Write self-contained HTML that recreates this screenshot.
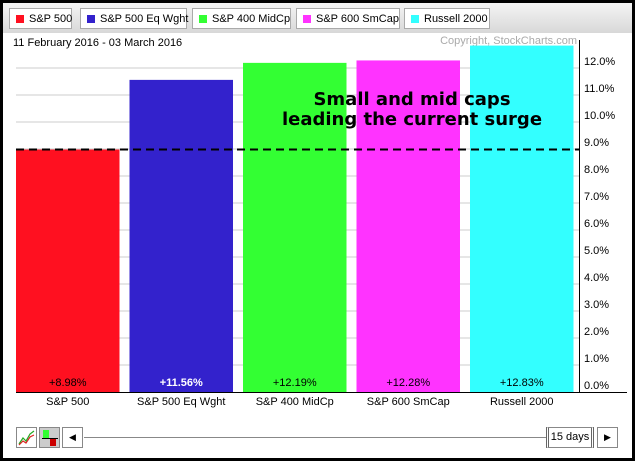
<!DOCTYPE html>
<html><head><meta charset="utf-8"><style>
body{margin:0;width:635px;height:461px;overflow:hidden;font-family:"Liberation Sans",Arial,sans-serif;}
#frame{position:absolute;left:0;top:0;width:629px;height:455px;border:3px solid #000;background:#fff;}
#hdr{position:absolute;left:0;top:0;width:629px;height:30px;background:linear-gradient(#f4f4f4,#d8d8d8);}
.leg{position:absolute;top:5px;height:21px;border:1px solid #aaa;background:#fff;font-size:11px;line-height:20px;padding:0 0 0 19px;box-sizing:border-box;white-space:nowrap;}
.leg i{position:absolute;left:6px;top:6px;width:8px;height:8px;}
.btn{position:absolute;border:1px solid #888;background:#fff;box-sizing:border-box;font-size:11px;text-align:center;white-space:nowrap;}
</style></head><body>
<div id="frame">
<div id="hdr">
<div class="leg" style="left:6px;width:63px"><i style="background:#ff1020"></i>S&amp;P 500</div>
<div class="leg" style="left:77px;width:107px"><i style="background:#3322cc"></i>S&amp;P 500 Eq Wght</div>
<div class="leg" style="left:189px;width:99px"><i style="background:#33ff33"></i>S&amp;P 400 MidCp</div>
<div class="leg" style="left:293px;width:104px"><i style="background:#ff33ff"></i>S&amp;P 600 SmCap</div>
<div class="leg" style="left:401px;width:86px"><i style="background:#33ffff"></i>Russell 2000</div>
</div>
</div>
<svg id="chart" width="635" height="461" style="position:absolute;left:0;top:0"></svg>
<div class="btn" style="left:16px;top:427px;width:21px;height:21px"><svg width="19" height="19"><polyline points="2,16 6,10 9,13 13,6 17,3" fill="none" stroke="#2a2" stroke-width="1.2"/><polyline points="2,17 6,13 9,15 13,9 17,7" fill="none" stroke="#d22" stroke-width="1.2"/></svg></div>
<div class="btn" style="left:39px;top:427px;width:21px;height:21px;background:#ccc"><div style="position:absolute;left:3px;top:2px;width:6px;height:8px;background:#3f3"></div><div style="position:absolute;left:2px;top:10px;width:16px;height:1px;background:#000"></div><div style="position:absolute;left:10px;top:11px;width:6px;height:7px;background:#c00"></div></div>
<div class="btn" style="left:62px;top:427px;width:21px;height:21px;line-height:19px;font-size:9px">◀</div>
<div style="position:absolute;left:84px;top:437px;width:462px;height:1px;background:#888"></div>
<div class="btn" style="left:546px;top:427px;width:48px;height:21px;line-height:19px;border-left:3px double #666;border-right:3px double #666">15 days</div>
<div class="btn" style="left:597px;top:427px;width:21px;height:21px;line-height:19px;font-size:9px">▶</div>
<script>
const categories=["S&P 500","S&P 500 Eq Wght","S&P 400 MidCp","S&P 600 SmCap","Russell 2000"];
const values=[8.98,11.56,12.19,12.28,12.83];
const colors=["#ff1020","#3322cc","#33ff33","#ff33ff","#33ffff"];
const ticks=[0,1,2,3,4,5,6,7,8,9,10,11,12];
const refValue=8.98;
const NS="http://www.w3.org/2000/svg",svg=document.getElementById('chart');
const x0=16,x1=579,yZero=392,pxPer=27.0;
const y=v=>yZero-v*pxPer;
const band=113.5;
function mk(t,a,txt){const e=document.createElementNS(NS,t);for(const k in a)e.setAttribute(k,a[k]);if(txt!==undefined)e.textContent=txt;svg.appendChild(e);return e;}
let e=mk('text',{x:13,y:46,'font-size':11,fill:'#000'},'11 February 2016 - 03 March 2016');


e=mk('text',{x:577,y:44,'font-size':11,fill:'#aaa','text-anchor':'end'},'Copyright, StockCharts.com');


ticks.forEach(t=>{
 if(t>0){e=mk('line',{x1:x0,x2:x1,y1:y(t),y2:y(t),stroke:'#ccc','stroke-width':1});
 
 }
 e=mk('text',{x:584,y:y(t)-3,'font-size':11,fill:'#000'},t.toFixed(1)+'%');
 
 
});
values.forEach((v,i)=>{
 const bx=x0+i*band, w=band-10;
 e=mk('rect',{x:bx,y:y(v),width:w,height:y(0)-y(v),fill:colors[i]});
 
 
 e=mk('text',{x:bx+w/2,y:386,'font-size':11,'text-anchor':'middle',fill:i==1?'#fff':'#000','font-weight':i==1?'bold':'normal'},'+'+v.toFixed(2)+'%');
 
 
 e=mk('text',{x:bx+w/2,y:405,'font-size':11,'text-anchor':'middle',fill:'#000'},categories[i]);
 
 
});
e=mk('line',{x1:x0,x2:x1+48,y1:yZero+0.5,y2:yZero+0.5,stroke:'#000','stroke-width':1});


e=mk('line',{x1:x1+0.5,x2:x1+0.5,y1:40,y2:yZero,stroke:'#000','stroke-width':1});


e=mk('line',{x1:x0,x2:x1,y1:y(refValue),y2:y(refValue),stroke:'#000','stroke-width':2,'stroke-dasharray':'8,5'});


e=mk('text',{x:412,y:105,'font-size':18,'font-family':'DejaVu Sans, sans-serif','font-weight':'bold','text-anchor':'middle',fill:'#000'},'Small and mid caps');


e=mk('text',{x:412,y:125,'font-size':18,'font-family':'DejaVu Sans, sans-serif','font-weight':'bold','text-anchor':'middle',fill:'#000'},'leading the current surge');


</script>
</body></html>
